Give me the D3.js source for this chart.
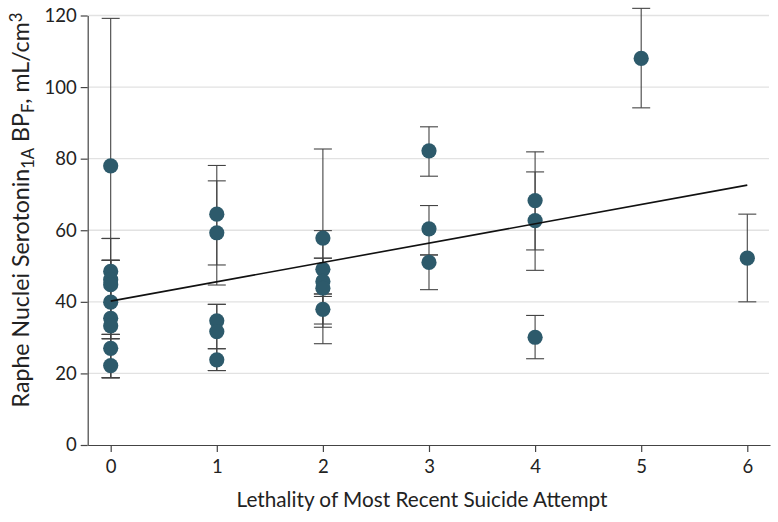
<!DOCTYPE html>
<html><head><meta charset="utf-8">
<script src="https://cdn.jsdelivr.net/npm/d3@7"></script>
<style>
body{margin:0;background:#fff;}
svg{display:block;font-family:Lato, "Noto Sans", sans-serif;}
</style></head>
<body><svg id="c" width="778" height="522"></svg>
<script>
// Data
const lethality = [0,0,0,0,0,0,0,0,0, 1,1,1,1,1, 2,2,2,2,2, 3,3,3, 4,4,4, 5, 6];
const bpValues  = [78.0,48.5,46.2,44.8,39.9,35.4,33.3,27.0,22.2,
                   64.5,59.3,34.7,31.7,23.8,
                   57.8,49.1,45.7,43.8,37.9,
                   82.2,60.4,51.0,
                   68.3,62.7,30.1,
                   108.0,
                   52.2];
const lowerCI   = [57.7,30.9,29.7,29.7,30.9,18.8,18.8,18.8,18.8,
                   50.3,44.7,26.9,20.8,20.8,
                   32.9,42.2,41.5,33.8,28.3,
                   75.1,53.1,43.4,
                   54.5,48.8,24.1,
                   94.2,
                   40.0];
const upperCI   = [119.2,57.7,51.6,57.7,51.6,51.6,51.6,30.9,29.7,
                   78.1,73.8,39.3,39.3,26.9,
                   82.7,59.9,52.2,52.2,42.2,
                   88.9,66.9,53.1,
                   81.9,76.3,36.2,
                   122.0,
                   64.5];
const fitX = [0, 6];
const fitY = [40.2, 72.6];
const xTicks = [0,1,2,3,4,5,6];
const yTicks = [0,20,40,60,80,100,120];

const svg = d3.select("#c");
const x = d3.scaleLinear().domain([-0.2167, 6.214]).range([87.7, 770]);
const y = d3.scaleLinear().domain([0, 120]).range([445, 15.5]);

// gridlines
svg.append("g").selectAll("line").data(yTicks.filter(d=>d>0)).join("line")
  .attr("x1", 88).attr("x2", 769)
  .attr("y1", d=>y(d)).attr("y2", d=>y(d))
  .attr("stroke", "#e2e2e2").attr("stroke-width", 1.3);

// axes
const xa = svg.append("g").attr("transform", `translate(0,${y(0)})`)
  .call(d3.axisBottom(x).tickValues(xTicks).tickFormat(d3.format("d")).tickSize(7).tickSizeOuter(0).tickPadding(8));
const ya = svg.append("g").attr("transform", `translate(${x.range()[0]},0)`)
  .call(d3.axisLeft(y).tickValues(yTicks).tickFormat(d3.format("d")).tickSize(7).tickSizeOuter(0).tickPadding(4));
[xa, ya].forEach(a=>{
  a.select(".domain").attr("stroke", "#444").attr("stroke-width", 1.2);
  a.selectAll(".tick line").attr("stroke", "#444").attr("stroke-width", 1.2);
  a.selectAll(".tick text").attr("fill", "#222").style("font-size", "18.5px")
    .style("font-family", "Lato, 'Noto Sans', sans-serif");
});

const pts = lethality.map((l,i)=>({l, v:bpValues[i], lo:lowerCI[i], hi:upperCI[i]}));

// error bars
const eb = svg.append("g").attr("stroke", "#444").attr("stroke-width", 1.1);
eb.selectAll("line.v").data(pts).join("line").attr("class","v")
  .attr("x1", d=>x(d.l)).attr("x2", d=>x(d.l))
  .attr("y1", d=>y(d.lo)).attr("y2", d=>y(d.hi));
eb.selectAll("line.lo").data(pts).join("line").attr("class","lo")
  .attr("x1", d=>x(d.l)-9).attr("x2", d=>x(d.l)+9)
  .attr("y1", d=>y(d.lo)).attr("y2", d=>y(d.lo));
eb.selectAll("line.hi").data(pts).join("line").attr("class","hi")
  .attr("x1", d=>x(d.l)-9).attr("x2", d=>x(d.l)+9)
  .attr("y1", d=>y(d.hi)).attr("y2", d=>y(d.hi));

// points
svg.append("g").selectAll("circle").data(pts).join("circle")
  .attr("cx", d=>x(d.l)).attr("cy", d=>y(d.v)).attr("r", 7.6)
  .attr("fill", "#2d5a6b");

// regression line
svg.append("path").datum(fitX.map((d,i)=>[d, fitY[i]]))
  .attr("d", d3.line().x(d=>x(d[0])).y(d=>y(d[1])))
  .attr("stroke", "#111").attr("stroke-width", 1.6).attr("fill", "none");

// x label
const xl = svg.append("text").attr("x", 422).attr("y", 507).attr("text-anchor", "middle")
  .attr("fill", "#222").style("font-size", "18px").text("Lethality of Most Recent Suicide Attempt");
(function(){const w = xl.node().getComputedTextLength(); const fs = 18*371/w; xl.style("font-size", fs+"px");})();

// y label
const yl = svg.append("text").attr("transform", "translate(29,210) rotate(-90)")
  .attr("text-anchor", "middle").attr("fill", "#222").style("font-size", "18px");
yl.append("tspan").text("Raphe Nuclei Serotonin");
yl.append("tspan").attr("dy", 5).style("font-size", "13px").text("1A");
yl.append("tspan").attr("dy", -5).text(" BP");
yl.append("tspan").attr("dy", 5).style("font-size", "13px").text("F");
yl.append("tspan").attr("dy", -5).text(", mL/cm");
yl.append("tspan").attr("dy", -7).style("font-size", "13px").text("3");
(function(){
  const w = yl.node().getComputedTextLength();
  const k = 395/w;
  yl.selectAll("tspan").each(function(){
    const s = parseFloat(this.style.fontSize || 18);
    d3.select(this).style("font-size", (s*k)+"px");
  });
  yl.style("font-size", (18*k)+"px");
})();
</script></body></html>
